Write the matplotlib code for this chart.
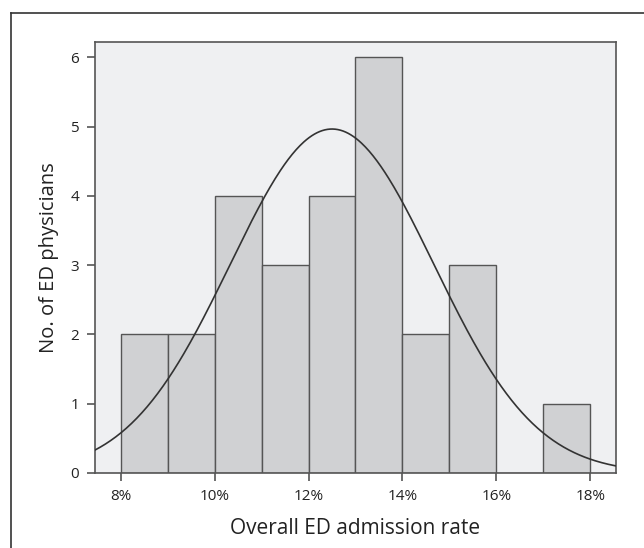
import numpy as np
import matplotlib
matplotlib.use("Agg")
import matplotlib.pyplot as plt
from matplotlib.lines import Line2D
from matplotlib.ticker import FuncFormatter

# histogram of physicians by admission rate (%)
bin_left = [8, 9, 10, 11, 12, 13, 14, 15, 16, 17]
counts = [2, 2, 4, 3, 4, 6, 2, 3, 0, 1]
bin_width = 1.0

# fitted normal curve
fit_mean = 12.5
fit_sd = 2.17

x_ticks = [8, 10, 12, 14, 16, 18]
y_ticks = [0, 1, 2, 3, 4, 5, 6]

plt.rcParams['font.family'] = ['Open Sans', 'DejaVu Sans']

fig = plt.figure(figsize=(6.44, 5.48), dpi=100)
ax = fig.add_axes([0.1475, 0.1369, 0.8090, 0.7865])
ax.set_facecolor('#eff0f2')

ax.bar(bin_left, counts, width=bin_width, align='edge', color='#d0d1d3',
       edgecolor='#555555', linewidth=1.0, zorder=2)

n = sum(counts)
xs = np.linspace(7.45, 18.55, 400)
ys = n * bin_width * np.exp(-0.5 * ((xs - fit_mean) / fit_sd) ** 2) / (fit_sd * np.sqrt(2 * np.pi))
ax.plot(xs, ys, color='#333333', linewidth=1.2, zorder=3)

ax.set_xlim(7.45, 18.55)
ax.set_ylim(0, 6.22)
ax.set_xticks(x_ticks)
ax.set_yticks(y_ticks)
ax.xaxis.set_major_formatter(FuncFormatter(lambda v, p: f"{v:.0f}%"))
ax.tick_params(axis='x', length=5.5, width=1.2, color='#555555', labelsize=11, pad=6, labelcolor='#222222')
ax.tick_params(axis='y', length=5.5, width=1.2, color='#555555', labelsize=11, pad=6, labelcolor='#222222')

for s in ax.spines.values():
    s.set_color('#555555')
    s.set_linewidth(1.2)

ax.set_xlabel("Overall ED admission rate", fontsize=15, color='#222222', labelpad=10)
ax.set_ylabel("No. of ED physicians", fontsize=14.5, color='#222222', labelpad=8)

# outer frame (top and left edges visible)
fig.add_artist(Line2D([11 / 644, 11 / 644], [0, 1 - 13 / 548], color='#333333', linewidth=1.2))
fig.add_artist(Line2D([11 / 644, 1], [1 - 13 / 548, 1 - 13 / 548], color='#333333', linewidth=1.2))

plt.savefig("out.png", dpi=100)
